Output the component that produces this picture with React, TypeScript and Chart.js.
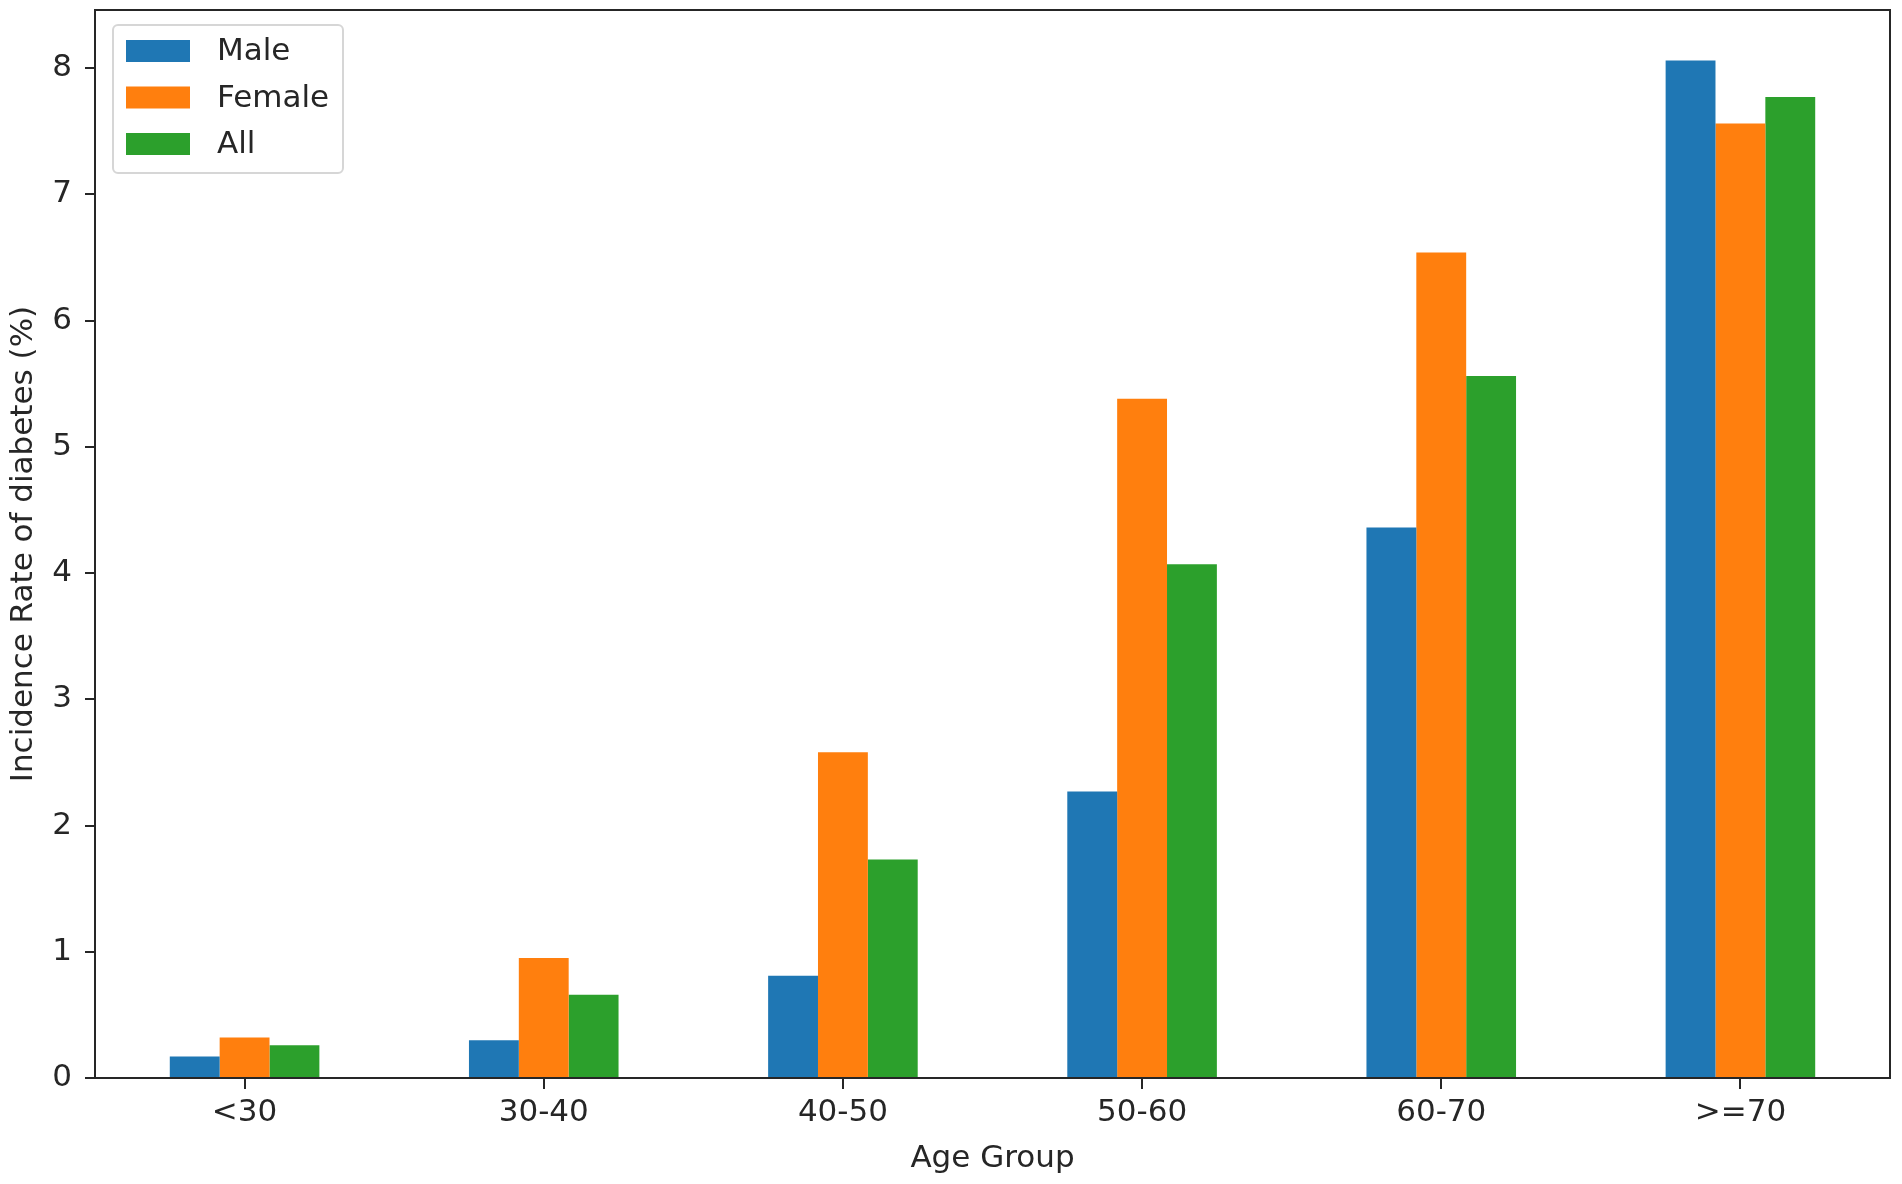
import React, { useEffect, useRef } from "react";
import { Chart, registerables } from "chart.js";

Chart.register(...registerables);

const categories = ["<30", "30-40", "40-50", "50-60", "60-70", ">=70"];
const maleValues = [0.17, 0.3, 0.81, 2.27, 4.36, 8.06];
const femaleValues = [0.32, 0.95, 2.58, 5.38, 6.54, 7.56];
const allValues = [0.26, 0.66, 1.73, 4.07, 5.56, 7.77];
const seriesNames = ["Male", "Female", "All"];
const seriesColors = ["#1f77b4", "#ff7f0e", "#2ca02c"];
const yTicks = [0, 1, 2, 3, 4, 5, 6, 7, 8];

const FONT = "'DejaVu Sans', sans-serif";
const TEXT = "#262626";

const frameAndLegend = {
  id: "frameAndLegend",
  afterDatasetsDraw(chart: any) {
    const { ctx, chartArea } = chart;
    ctx.save();
    ctx.strokeStyle = "#262626";
    ctx.lineWidth = 2;
    ctx.strokeRect(chartArea.left, chartArea.top, chartArea.right - chartArea.left, chartArea.bottom - chartArea.top);
    const bx = chartArea.left + 18;
    const by = chartArea.top + 15;
    const bw = 230;
    const bh = 148;
    ctx.beginPath();
    ctx.roundRect(bx, by, bw, bh, 5);
    ctx.fillStyle = "rgba(255,255,255,0.85)";
    ctx.fill();
    ctx.strokeStyle = "#d6d6d6";
    ctx.lineWidth = 2;
    ctx.stroke();
    ctx.font = `31px ${FONT}`;
    ctx.textBaseline = "middle";
    ctx.textAlign = "left";
    chart.data.datasets.forEach((ds: any, i: number) => {
      const cy = by + 26 + i * 46.5;
      ctx.fillStyle = ds.backgroundColor;
      ctx.fillRect(bx + 13, cy - 11, 64, 22);
      ctx.fillStyle = TEXT;
      ctx.fillText(ds.label, bx + 104, cy + 1);
    });
    ctx.restore();
  },
};

export default function App() {
  const ref = useRef<HTMLCanvasElement | null>(null);
  useEffect(() => {
    document.body.style.margin = "0";
    const canvas = ref.current!;
    const chart = new Chart(canvas, {
      type: "bar",
      data: {
        labels: categories,
        datasets: [maleValues, femaleValues, allValues].map((vals, i) => ({
          label: seriesNames[i],
          data: vals,
          backgroundColor: seriesColors[i],
          borderWidth: 0,
          categoryPercentage: 0.5,
          barPercentage: 1.0,
        })),
      },
      options: {
        animation: false,
        responsive: false,
        devicePixelRatio: 1,
        events: [],
        layout: { padding: { top: 10, right: 12, left: 0, bottom: 0 } },
        plugins: { legend: { display: false }, tooltip: { enabled: false } },
        scales: {
          x: {
            offset: true,
            grid: {
              offset: false,
              drawOnChartArea: false,
              drawTicks: true,
              tickLength: 11,
              color: "#262626",
              lineWidth: 2,
            },
            border: { display: false },
            ticks: { color: TEXT, font: { family: FONT, size: 31 }, padding: 5, maxRotation: 0 },
            title: {
              display: true,
              text: "Age Group",
              color: TEXT,
              font: { family: FONT, size: 31 },
              padding: { top: 2, bottom: 6 },
            },
            afterFit(scale: any) {
              scale.height = 106;
              scale.paddingLeft = 0;
              scale.paddingRight = 0;
            },
          },
          y: {
            min: 0,
            max: 8.46,
            grid: {
              drawOnChartArea: false,
              drawTicks: true,
              tickLength: 10,
              color: "#262626",
              lineWidth: 2,
            },
            border: { display: false },
            ticks: { stepSize: 1, color: TEXT, font: { family: FONT, size: 31 }, padding: 13 },
            afterBuildTicks(scale: any) {
              scale.ticks = yTicks.map((v) => ({ value: v }));
            },
            title: {
              display: true,
              text: "Incidence Rate of diabetes (%)",
              color: TEXT,
              font: { family: FONT, size: 31 },
              padding: { top: 5, bottom: 0 },
            },
            afterFit(scale: any) {
              scale.width = 95;
              scale.paddingTop = 0;
              scale.paddingBottom = 0;
            },
          },
        },
      },
      plugins: [frameAndLegend],
    });
    return () => chart.destroy();
  }, []);
  return (
    <div style={{ position: "absolute", left: 0, top: 0, width: 1902, height: 1184, background: "#fff" }}>
      <canvas ref={ref} width={1902} height={1184} style={{ width: 1902, height: 1184, display: "block" }} />
    </div>
  );
}
